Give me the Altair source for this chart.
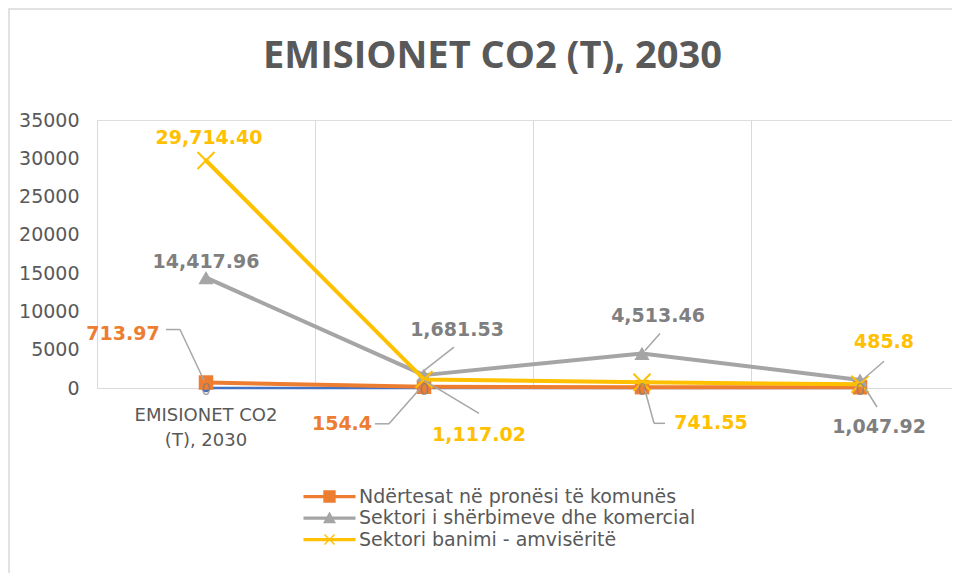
import altair as alt
import pandas as pd

# ---------------- data ----------------
categories = ["EMISIONET CO2\n(T), 2030", "", "", ""]
series_names = [
    "Ndërtesat në pronësi të komunës",
    "Sektori i shërbimeve dhe komercial",
    "Sektori banimi - amvisëritë",
]
hidden_name = "EMISIONET CO2 (T), 2030"
blue_values = [0, 0, 0, 0]
orange_values = [713.97, 154.4, 110, 90]
gray_values = [14417.96, 1681.53, 4513.46, 1047.92]
yellow_values = [29714.40, 1117.02, 741.55, 485.8]
y_ticks = [0, 5000, 10000, 15000, 20000, 25000, 30000, 35000]

# data labels: (series index, category index, text)
label_series = [2, 1, 0, 0, 1, 2, 1, 2, 2, 1]
label_points = [0, 0, 0, 1, 1, 1, 2, 2, 3, 3]
label_texts = ["29,714.40", "14,417.96", "713.97", "154.4", "1,681.53",
               "1,117.02", "4,513.46", "741.55", "485.8", "1,047.92"]

# ---------------- styles / placement ----------------
colors = ["#ED7D31", "#A5A5A5", "#FFC000"]
label_colors = ["#ED7D31", "#7F7F7F", "#FFC000"]
blue = "#4472C4"
text_gray = "#595959"
grid_gray = "#D9D9D9"
FONT = "DejaVu Sans"

# pixel offsets of each data label from its point
label_dx = [3, 0, -83, -82, 33, 55, 16, 69, 24, 19]
label_dy = [-22, -16, -49, 37, -45, 56, -37, 41, -42, 47]
# leader line segments: (label idx, x1, y1, x2, y2) offsets in px from the point
leaders = [
    (2, -40, -53, -26, -53), (2, -26, -53, -2, -2),
    (3, -49, 37, -35, 37), (3, -35, 37, -5, 3),
    (4, 30, -28, -2, -3),
    (5, 55, 34, 0, 1),
    (6, 18, -20, 3, -3),
    (7, 3, 8, 12, 41), (7, 12, 41, 23, 41),
    (8, 24, -23, 2, -4),
    (9, 17, 27, 5, 8),
]

PLOT_W, PLOT_H = 855, 268
XMAX = PLOT_W / 218.0

rows = []
all_vals = [orange_values, gray_values, yellow_values]
for si, name in enumerate(series_names):
    for ci, v in enumerate(all_vals[si]):
        rows.append({"series": name, "cat": ci, "x": ci + 0.5, "value": v})
for ci, v in enumerate(blue_values):
    rows.append({"series": hidden_name, "cat": ci, "x": ci + 0.5, "value": v})
df = pd.DataFrame(rows)

xenc = alt.X("x:Q", scale=alt.Scale(domain=[0, XMAX], nice=False, zero=False),
             axis=alt.Axis(values=[0, 1, 2, 3], labels=False, ticks=False, domain=True,
                           domainColor=grid_gray, domainWidth=1, grid=True,
                           gridColor=grid_gray, gridWidth=1, title=None))
yenc = alt.Y("value:Q", scale=alt.Scale(domain=[0, 35000], nice=False),
             axis=alt.Axis(values=y_ticks, format="d", grid=False, ticks=False,
                           domain=False, labelFontSize=19, labelColor=text_gray,
                           labelFont=FONT, labelPadding=18, title=None))

base = alt.Chart(df)
layers = []

# frame around the chart (decoration)
layers.append(
    alt.Chart(pd.DataFrame({"a": [0]})).mark_rect(
        fill=None, stroke=grid_gray, strokeWidth=1.5
    ).encode(x=alt.value(-88), x2=alt.value(PLOT_W + 20),
             y=alt.value(-111), y2=alt.value(457))
)

# hidden blue series
layers.append(base.transform_filter(alt.datum.series == hidden_name)
              .mark_line(color=blue, strokeWidth=2.5).encode(x=xenc, y=yenc))
layers.append(base.transform_filter(alt.datum.series == hidden_name)
              .mark_point(shape="circle", size=70, filled=True, color=blue, opacity=1)
              .encode(x=xenc, y=yenc))

shapes = ["square", "triangle-up", "M-1,-1L1,1M-1,1L1,-1"]
sizes = [210, 230, 289]
for si, name in enumerate(series_names):
    sub = base.transform_filter(alt.datum.series == name)
    layers.append(sub.mark_line(color=colors[si], strokeWidth=4, strokeCap="round",
                                strokeJoin="round").encode(x=xenc, y=yenc))
    if si < 2:
        layers.append(sub.mark_point(shape=shapes[si], size=sizes[si], filled=True,
                                     color=colors[si], opacity=1).encode(x=xenc, y=yenc))
    else:
        layers.append(sub.mark_point(shape=shapes[si], size=sizes[si], filled=False,
                                     color=colors[si], strokeWidth=2, opacity=1)
                      .encode(x=xenc, y=yenc))

# "0" labels of hidden series
layers.append(base.transform_filter(alt.datum.series == hidden_name)
              .mark_text(font=FONT, fontSize=15, color="#7F7F7F", opacity=0.7, dy=2)
              .encode(x=xenc, y=yenc, text=alt.Text("value:Q", format="d")))

# leader lines
for (li, x1, y1, x2, y2) in leaders:
    s = series_names[label_series[li]]
    c = label_points[li]
    sub = base.transform_filter((alt.datum.series == s) & (alt.datum.cat == c))
    layers.append(sub.mark_rule(color="#A6A6A6", strokeWidth=1.5,
                                xOffset=x1, yOffset=y1, x2Offset=x2, y2Offset=y2)
                  .encode(x=xenc, y=yenc, x2="x:Q", y2="value:Q"))

# data labels
for li, txt in enumerate(label_texts):
    si = label_series[li]
    s = series_names[si]
    c = label_points[li]
    sub = base.transform_filter((alt.datum.series == s) & (alt.datum.cat == c))
    layers.append(sub.mark_text(font=FONT, fontSize=19, fontWeight="bold",
                                color=label_colors[si], dx=label_dx[li], dy=label_dy[li])
                  .encode(x=xenc, y=yenc, text=alt.value(txt)))

# category labels
cat_df = pd.DataFrame({"x": [i + 0.5 for i in range(len(categories))],
                       "value": [0] * len(categories), "label": categories})
layers.append(alt.Chart(cat_df).mark_text(font=FONT, fontSize=18, color=text_gray,
                                          lineBreak="\n", lineHeight=25, baseline="top", dy=19)
              .encode(x=xenc, y=yenc, text="label:N"))

# legend carrier (invisible points, legend shows line + marker)
leg_shapes = [
    "M-4,-0.25L4,-0.25L4,0.25L-4,0.25Z M-0.95,-0.95L0.95,-0.95L0.95,0.95L-0.95,0.95Z",
    "M-4,-0.25L4,-0.25L4,0.25L-4,0.25Z M0,-1L1,0.8L-1,0.8Z",
    "M-4,-0.25L4,-0.25L4,0.25L-4,0.25Z M-0.85,-0.7L-0.7,-0.85L0,-0.15L0.7,-0.85L0.85,-0.7L0.15,0L0.85,0.7L0.7,0.85L0,0.15L-0.7,0.85L-0.85,0.7L-0.15,0Z",
]
leg_df = pd.DataFrame({"series": series_names, "x": [0.5] * 3, "value": [0] * 3})
legend = alt.Legend(title=None, orient="none", legendX=223, legendY=367,
                    labelFont=FONT, labelFontSize=19, labelColor=text_gray, labelLimit=0,
                    symbolSize=169, labelOffset=20, rowPadding=1.5,
                    symbolOpacity=1, symbolStrokeWidth=0)
layers.append(alt.Chart(leg_df).mark_point(filled=True, opacity=0).encode(
    x=xenc, y=yenc,
    color=alt.Color("series:N", scale=alt.Scale(domain=series_names, range=colors),
                    legend=legend, sort=series_names),
    shape=alt.Shape("series:N", scale=alt.Scale(domain=series_names, range=leg_shapes),
                    legend=legend, sort=series_names),
))

chart = alt.layer(*layers).properties(
    width=PLOT_W, height=PLOT_H,
    title=alt.Title("EMISIONET  CO2 (T), 2030", font="Open Sans", fontSize=38,
                    fontWeight="bold", color=text_gray, anchor="middle", dx=-32, offset=-68),
    autosize=alt.AutoSizeParams(type="none"),
    padding={"left": 89, "top": 112, "right": 0, "bottom": 185},
).configure_view(stroke=None).configure(background="white")

chart.save("out.html", embed_options={"renderer": "svg", "actions": False})
